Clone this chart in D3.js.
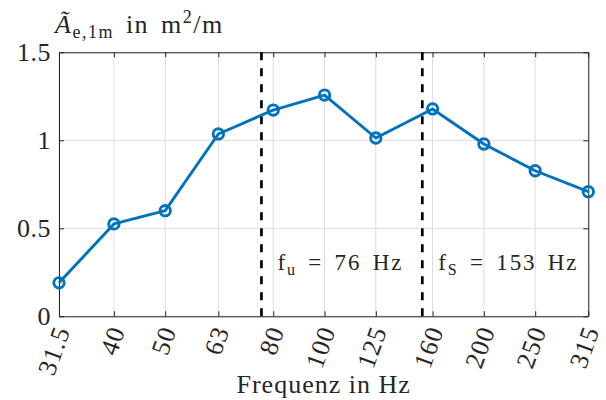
<!DOCTYPE html>
<html>
<head>
<meta charset="utf-8">
<script src="https://cdn.jsdelivr.net/npm/d3@7"></script>
<style>
    body { margin: 0; background: #fff; }
    text { font-family: "Liberation Serif", "DejaVu Serif", serif; fill: #262626; }
</style>
</head>
<body>
<div id="graph-01"></div>
<script>
// data
var frequencies = [31.5, 40, 50, 63, 80, 100, 125, 160, 200, 250, 315];
var tickLabels  = ['31.5', '40', '50', '63', '80', '100', '125', '160', '200', '250', '315'];
var areaValues  = [0.19, 0.525, 0.60, 1.036, 1.172, 1.257, 1.013, 1.178, 0.979, 0.827, 0.708];
var yTicks      = [0, 0.5, 1, 1.5];
var yTickLabels = ['0', '0.5', '1', '1.5'];
var markerFreqs  = [76, 153];
var markerLabels = [['f', 'u', ' = 76 Hz'], ['f', 'S', ' = 153 Hz']];

(function(){
    var WIDTH  = 606,
        HEIGHT = 400,
        LEFT   = 59,
        RIGHT  = 588.3,
        TOP    = 52.3,
        BOTTOM = 316.3,
        BLUE   = '#0072BD',
        AXIS   = '#262626',
        GRID   = '#dcdcdc',
        TICK   = 5;

    var svg = d3.select('div#graph-01')
        .append('svg')
        .attr('width', WIDTH)
        .attr('height', HEIGHT);

    var x = d3.scaleLog().domain([31.5, 315]).range([LEFT, RIGHT]);
    var y = d3.scaleLinear().domain([0, 1.5]).range([BOTTOM, TOP]);

    // grid
    var grid = svg.append('g').attr('class', 'grid');
    grid.selectAll('line.gx')
        .data(frequencies)
        .enter().append('line')
        .attr('x1', function(d){ return x(d) })
        .attr('x2', function(d){ return x(d) })
        .attr('y1', TOP).attr('y2', BOTTOM)
        .attr('stroke', GRID).attr('stroke-width', 1);
    grid.selectAll('line.gy')
        .data(yTicks)
        .enter().append('line')
        .attr('y1', function(d){ return y(d) })
        .attr('y2', function(d){ return y(d) })
        .attr('x1', LEFT).attr('x2', RIGHT)
        .attr('stroke', GRID).attr('stroke-width', 1);

    // axes (ticks inward, box on)
    var xb = svg.append('g')
        .attr('transform', 'translate(0,' + BOTTOM + ')')
        .call(d3.axisBottom(x).tickValues(frequencies).tickFormat('').tickSizeInner(-TICK).tickSizeOuter(0));
    var xt = svg.append('g')
        .attr('transform', 'translate(0,' + TOP + ')')
        .call(d3.axisTop(x).tickValues(frequencies).tickFormat('').tickSizeInner(-TICK).tickSizeOuter(0));
    var yl = svg.append('g')
        .attr('transform', 'translate(' + LEFT + ',0)')
        .call(d3.axisLeft(y).tickValues(yTicks).tickFormat('').tickSizeInner(-TICK).tickSizeOuter(0));
    var yr = svg.append('g')
        .attr('transform', 'translate(' + RIGHT + ',0)')
        .call(d3.axisRight(y).tickValues(yTicks).tickFormat('').tickSizeInner(-TICK).tickSizeOuter(0));
    [xb, xt, yl, yr].forEach(function(a){
        a.selectAll('path, line').attr('stroke', AXIS).attr('stroke-width', 1);
    });

    // tick labels
    svg.append('g').selectAll('text')
        .data(frequencies)
        .enter().append('text')
        .attr('transform', function(d){ return 'translate(' + (x(d) + 3) + ',' + (BOTTOM + 11) + ') rotate(-70)' })
        .attr('text-anchor', 'end')
        .attr('dy', '0.35em')
        .style('font-size', '26px')
        .style('letter-spacing', '1px')
        .text(function(d, i){ return tickLabels[i] });

    svg.append('g').selectAll('text')
        .data(yTicks)
        .enter().append('text')
        .attr('x', LEFT - 8)
        .attr('y', function(d){ return y(d) })
        .attr('dy', '0.35em')
        .attr('text-anchor', 'end')
        .style('font-size', '26px')
        .style('letter-spacing', '0.5px')
        .text(function(d, i){ return yTickLabels[i] });

    // axis labels
    svg.append('text')
        .attr('x', (LEFT + RIGHT) / 2)
        .attr('y', 393)
        .attr('text-anchor', 'middle')
        .style('font-size', '26px')
        .style('letter-spacing', '1px')
        .text('Frequenz in Hz');

    var yLab = svg.append('text')
        .attr('x', 55)
        .attr('y', 33)
        .style('font-size', '26px')
        .style('letter-spacing', '1.5px');
    yLab.append('tspan').style('font-style', 'italic').text('\u00C3');
    yLab.append('tspan').attr('dy', 5).style('font-size', '18px').text('e,1m');
    yLab.append('tspan').attr('dy', -5).style('word-spacing', '4px').text(' in m');
    yLab.append('tspan').attr('dy', -10).style('font-size', '18px').text('2');
    yLab.append('tspan').attr('dy', 10).text('/m');

    // dashed frequency markers
    svg.append('g').selectAll('line')
        .data(markerFreqs)
        .enter().append('line')
        .attr('x1', function(d){ return x(d) })
        .attr('x2', function(d){ return x(d) })
        .attr('y1', TOP).attr('y2', BOTTOM)
        .attr('stroke', '#000')
        .attr('stroke-width', 2.7)
        .attr('stroke-dasharray', '8,8');

    svg.append('g').selectAll('text')
        .data(markerFreqs)
        .enter().append('text')
        .attr('x', function(d){ return x(d) + 16 })
        .attr('y', 270)
        .style('font-size', '23px')
        .style('letter-spacing', '1.8px')
        .style('word-spacing', '4px')
        .each(function(d, i){
            var t = d3.select(this);
            t.append('tspan').text(markerLabels[i][0]);
            t.append('tspan').attr('dy', 5).style('font-size', '16px').text(markerLabels[i][1]);
            t.append('tspan').attr('dy', -5).text(markerLabels[i][2]);
        });

    // series
    var line = d3.line()
        .x(function(d, i){ return x(frequencies[i]) })
        .y(function(d){ return y(d) });

    svg.append('path')
        .datum(areaValues)
        .attr('d', line)
        .attr('fill', 'none')
        .attr('stroke', BLUE)
        .attr('stroke-width', 2.9)
        .attr('stroke-linejoin', 'round');

    svg.append('g').selectAll('circle')
        .data(areaValues)
        .enter().append('circle')
        .attr('cx', function(d, i){ return x(frequencies[i]) })
        .attr('cy', function(d){ return y(d) })
        .attr('r', 5.2)
        .attr('fill', 'none')
        .attr('stroke', BLUE)
        .attr('stroke-width', 2.9);
})();
</script>
</body>
</html>
